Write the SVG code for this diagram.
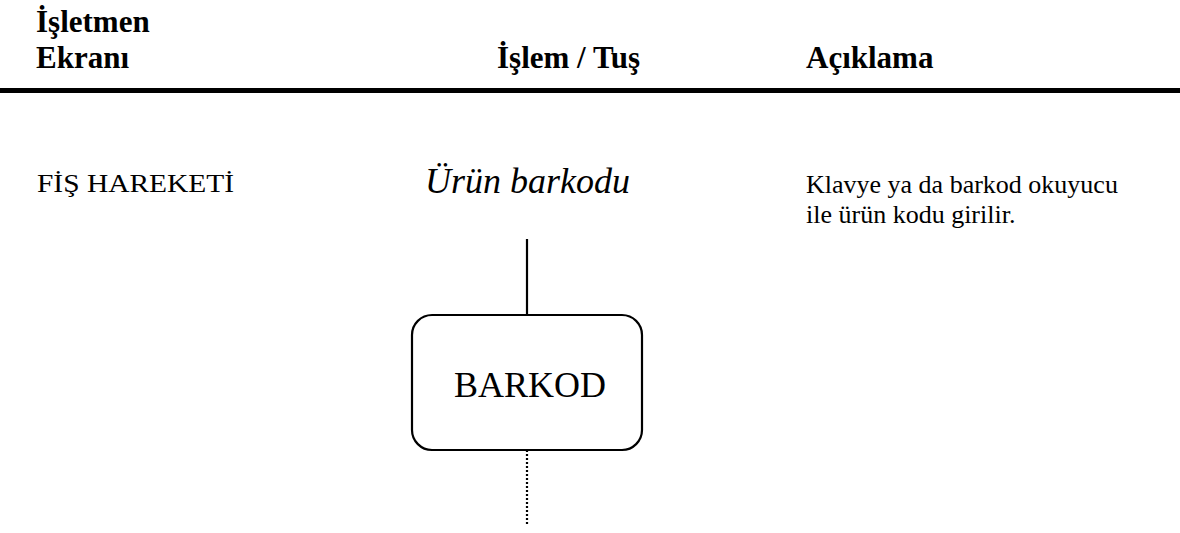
<svg xmlns="http://www.w3.org/2000/svg" width="1180" height="533" viewBox="0 0 1180 533">
<style>
.h{font-family:"Liberation Serif","Times New Roman",serif;font-weight:bold;font-size:31px;fill:#000}
.t{font-family:"Liberation Serif","Times New Roman",serif;font-size:26px;fill:#000}
.i{font-family:"Liberation Serif","Times New Roman",serif;font-style:italic;font-size:36px;fill:#000}
.b{font-family:"Liberation Serif","Times New Roman",serif;font-size:36px;fill:#000}
.ln{stroke:#000;stroke-width:2.2;fill:none}
</style>
<rect width="1180" height="533" fill="#fff"/>
<g id="header">
<text class="h" x="36" y="32">İşletmen</text>
<text class="h" x="36" y="68">Ekranı</text>
<text class="h" x="497" y="68">İşlem / Tuş</text>
<text class="h" x="806" y="68">Açıklama</text>
<rect x="0" y="88" width="1180" height="5" fill="#000"/>
</g>
<g id="screen">
<text class="t" x="37" y="192" font-size="28" textLength="197" lengthAdjust="spacingAndGlyphs">FİŞ HAREKETİ</text>
</g>
<g id="action">
<text class="i" x="425" y="193">Ürün barkodu</text>
</g>
<g id="description">
<text class="t" x="806" y="193">Klavye ya da barkod okuyucu</text>
<text class="t" x="806" y="223">ile ürün kodu girilir.</text>
</g>
<g id="connectors">
<line class="ln" x1="527" y1="239" x2="527" y2="315"/>
<line class="ln" x1="527" y1="450" x2="527" y2="525" stroke-dasharray="2,2"/>
</g>
<g id="barkod">
<rect class="ln" x="412" y="315" width="230" height="135" rx="20" ry="20" stroke-width="2.5"/>
<text class="b" x="530" y="397" text-anchor="middle">BARKOD</text>
</g>
</svg>
